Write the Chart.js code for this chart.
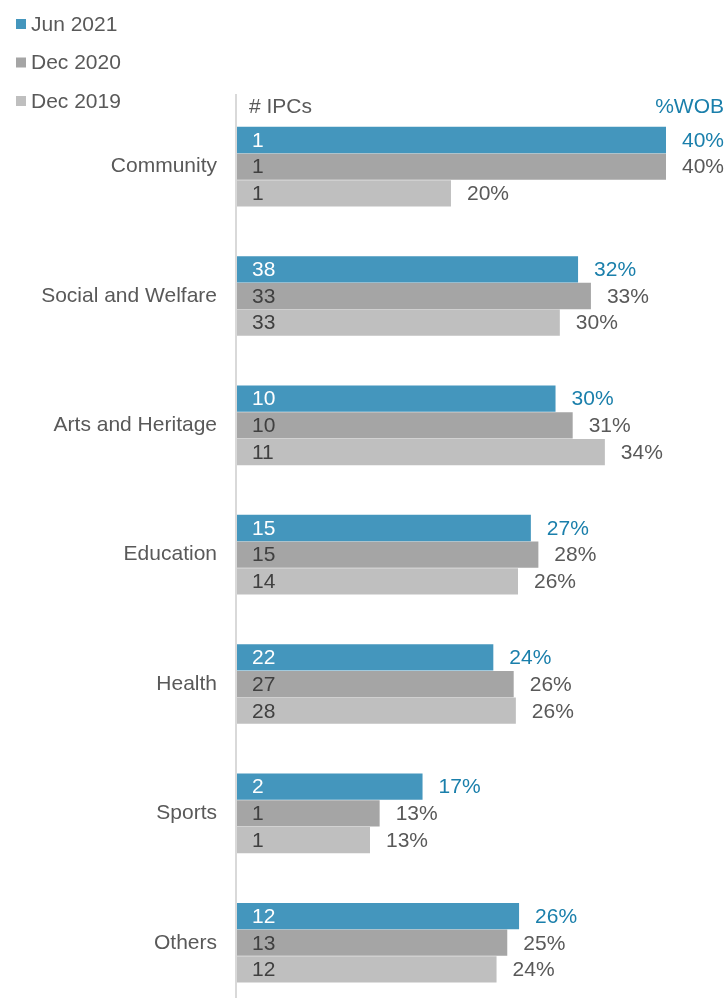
<!DOCTYPE html>
<html>
<head>
<meta charset="utf-8">
<script src="https://cdn.jsdelivr.net/npm/chart.js@4.4.1/dist/chart.umd.min.js"></script>
<style>
html,body{margin:0;padding:0;background:#fff;overflow:hidden;}
#wrap{position:relative;width:725px;height:1040px;}
</style>
</head>
<body>
<div id="wrap"><canvas id="c" width="725" height="1040"></canvas></div>
<script>
const categories = ["Community","Social and Welfare","Arts and Heritage","Education","Health","Sports","Others"];
const seriesNames = ["Jun 2021","Dec 2020","Dec 2019"];
// bar lengths (%WOB)
const wobJun2021 = [40, 31.8, 29.7, 27.4, 23.9, 17.3, 26.3];
const wobDec2020 = [40, 33.0, 31.3, 28.1, 25.8, 13.3, 25.2];
const wobDec2019 = [19.95, 30.1, 34.3, 26.2, 26.0, 12.4, 24.2];
// printed %WOB labels
const pctJun2021 = [40, 32, 30, 27, 24, 17, 26];
const pctDec2020 = [40, 33, 31, 28, 26, 13, 25];
const pctDec2019 = [20, 30, 34, 26, 26, 13, 24];
// # IPCs labels
const ipcJun2021 = [1, 38, 10, 15, 22, 2, 12];
const ipcDec2020 = [1, 33, 10, 15, 27, 1, 13];
const ipcDec2019 = [1, 33, 11, 14, 28, 1, 12];

const colors = ["#4496bd", "#a5a5a5", "#bfbfbf"];
const pctColors = ["#1a7fab", "#595959", "#595959"];
const inColors = ["#ffffff", "#404040", "#404040"];
const FONT = "Liberation Sans, Arial, sans-serif";
const FS = 21;

const ipcs = [ipcJun2021, ipcDec2020, ipcDec2019];
const pcts = [pctJun2021, pctDec2020, pctDec2019];

const labelPlugin = {
  id: 'labels',
  afterDatasetsDraw(chart) {
    const ctx = chart.ctx;
    ctx.save();
    ctx.font = FS + "px " + FONT;
    ctx.textBaseline = "middle";
    chart.data.datasets.forEach((ds, di) => {
      const meta = chart.getDatasetMeta(di);
      meta.data.forEach((bar, i) => {
        ctx.textAlign = "left";
        ctx.fillStyle = inColors[di];
        ctx.fillText(String(ipcs[di][i]), bar.base + 15, bar.y + 1);
        ctx.fillStyle = pctColors[di];
        ctx.fillText(pcts[di][i] + "%", bar.x + 16, bar.y + 1);
      });
    });
    // headers
    ctx.fillStyle = "#595959";
    ctx.textAlign = "left";
    ctx.fillText("# IPCs", 249, 107);
    ctx.fillStyle = "#1a7fab";
    ctx.textAlign = "right";
    ctx.fillText("%WOB", 724, 107);
    // legend
    seriesNames.forEach((n, k) => {
      const y = 24 + k * 38.5;
      ctx.fillStyle = colors[k];
      ctx.fillRect(16, y - 5, 10, 10);
      ctx.fillStyle = "#595959";
      ctx.textAlign = "left";
      ctx.fillText(n, 31, y + 1);
    });
    ctx.restore();
  },
  beforeDatasetsDraw(chart) {
    const ctx = chart.ctx;
    const x = chart.chartArea.left - 1;
    ctx.save();
    ctx.strokeStyle = "#d9d9d9";
    ctx.lineWidth = 2;
    ctx.beginPath();
    ctx.moveTo(x, 94);
    ctx.lineTo(x, 1040);
    ctx.stroke();
    ctx.restore();
  }
};

new Chart(document.getElementById('c'), {
  type: 'bar',
  data: {
    labels: categories,
    datasets: [
      { label: seriesNames[0], data: wobJun2021, backgroundColor: colors[0] },
      { label: seriesNames[1], data: wobDec2020, backgroundColor: colors[1] },
      { label: seriesNames[2], data: wobDec2019, backgroundColor: colors[2] }
    ]
  },
  options: {
    indexAxis: 'y',
    responsive: false,
    animation: false,
    devicePixelRatio: 1,
    layout: { padding: { top: 102, bottom: 2, left: 0, right: 59 } },
    datasets: { bar: { categoryPercentage: 0.619, barPercentage: 0.985 } },
    plugins: { legend: { display: false }, tooltip: { enabled: false } },
    scales: {
      x: { display: false, min: 0, max: 40 },
      y: {
        afterFit(s) { s.width = 237; },
        grid: { display: false, drawTicks: false },
        border: { display: false },
        ticks: { padding: 20, color: "#595959", font: { size: FS, family: FONT } }
      }
    }
  },
  plugins: [labelPlugin]
});
</script>
</body>
</html>
